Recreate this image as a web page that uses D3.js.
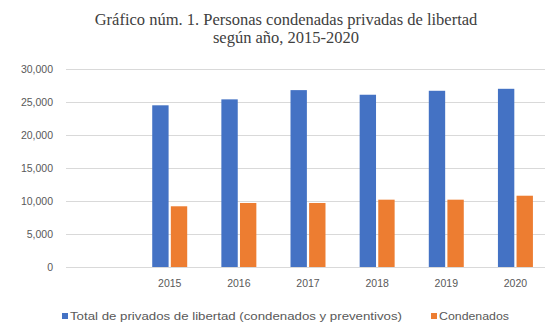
<!DOCTYPE html>
<html>
<head>
<meta charset="utf-8">
<script src="https://cdn.jsdelivr.net/npm/d3@7"></script>
<style>
  body { margin: 0; background: #fff; }
  .tick text { fill: #595959; }
</style>
</head>
<body>
<div id="chart"></div>
<script>
const width = 545;
const height = 322;

// Data (first category is blank in the original)
const years = ["", "2015", "2016", "2017", "2018", "2019", "2020"];
const totalPrivados = [null, 24500, 25400, 26800, 26100, 26700, 27000];
const condenados = [null, 9200, 9700, 9700, 10200, 10200, 10800];
const seriesNames = ["Total de privados de libertad (condenados y preventivos)", "Condenados"];
const seriesColors = ["#4472C4", "#ED7D31"];
const yTicks = [0, 5000, 10000, 15000, 20000, 25000, 30000];

const rows = years.map((y, i) => ({ year: y, values: [totalPrivados[i], condenados[i]] }));

const plotLeft = 66, plotRight = 550, plotTop = 69, plotBottom = 267;

const svg = d3.select("#chart").append("svg")
  .attr("width", width)
  .attr("height", height);

// Title
const title = svg.append("text")
  .attr("text-anchor", "middle")
  .attr("font-family", "Liberation Serif, Times New Roman, serif")
  .attr("font-size", 16.5)
  .attr("fill", "#404040");
title.append("tspan").attr("x", 286).attr("y", 25).text("Gráfico núm. 1. Personas condenadas privadas de libertad");
title.append("tspan").attr("x", 286).attr("y", 43).text("según año, 2015-2020");

const x = d3.scaleBand()
  .domain(years)
  .range([plotLeft, plotRight])
  .paddingInner(0.494)
  .paddingOuter(0.247);

const xSub = d3.scaleBand()
  .domain([0, 1])
  .range([0, x.bandwidth()])
  .paddingInner(0.12);

const y = d3.scaleLinear()
  .domain([0, 30000])
  .range([plotBottom, plotTop]);

// Gridlines + y labels
const yAxis = svg.append("g")
  .attr("transform", `translate(${plotLeft},0)`)
  .call(d3.axisLeft(y).tickValues(yTicks).tickFormat(d3.format(",")).tickSize(-(width - plotLeft)).tickPadding(13));
yAxis.select(".domain").remove();
yAxis.selectAll(".tick line").attr("stroke", "#d9d9d9");
yAxis.selectAll(".tick text")
  .attr("font-family", "Liberation Sans, Arial, sans-serif")
  .attr("font-size", 10.5);

// Bars
svg.append("g")
  .selectAll("g")
  .data(rows.filter(d => d.year !== ""))
  .join("g")
  .attr("transform", d => `translate(${x(d.year)},0)`)
  .selectAll("rect")
  .data(d => d.values.map((v, i) => ({ i, v })))
  .join("rect")
  .attr("x", d => xSub(d.i))
  .attr("width", xSub.bandwidth())
  .attr("y", d => y(d.v))
  .attr("height", d => y(0) - y(d.v))
  .attr("fill", d => seriesColors[d.i]);

// X labels
const xAxis = svg.append("g")
  .attr("transform", `translate(0,${plotBottom})`)
  .call(d3.axisBottom(x).tickSize(0).tickPadding(13));
xAxis.select(".domain").remove();
xAxis.selectAll(".tick text")
  .attr("font-family", "Liberation Sans, Arial, sans-serif")
  .attr("font-size", 10.5);

// Legend
const legendPos = [62, 431];
const legendTextLen = [332, 70];
const legend = svg.append("g")
  .selectAll("g")
  .data(seriesNames)
  .join("g")
  .attr("transform", (d, i) => `translate(${legendPos[i]},320)`);
legend.append("rect")
  .attr("x", 0).attr("y", -7)
  .attr("width", 6).attr("height", 6)
  .attr("fill", (d, i) => seriesColors[i]);
legend.append("text")
  .attr("x", 8).attr("y", 0)
  .attr("font-family", "Liberation Sans, Arial, sans-serif")
  .attr("font-size", 11)
  .attr("fill", "#595959")
  .attr("textLength", (d, i) => legendTextLen[i])
  .attr("lengthAdjust", "spacingAndGlyphs")
  .text(d => d);
</script>
</body>
</html>
